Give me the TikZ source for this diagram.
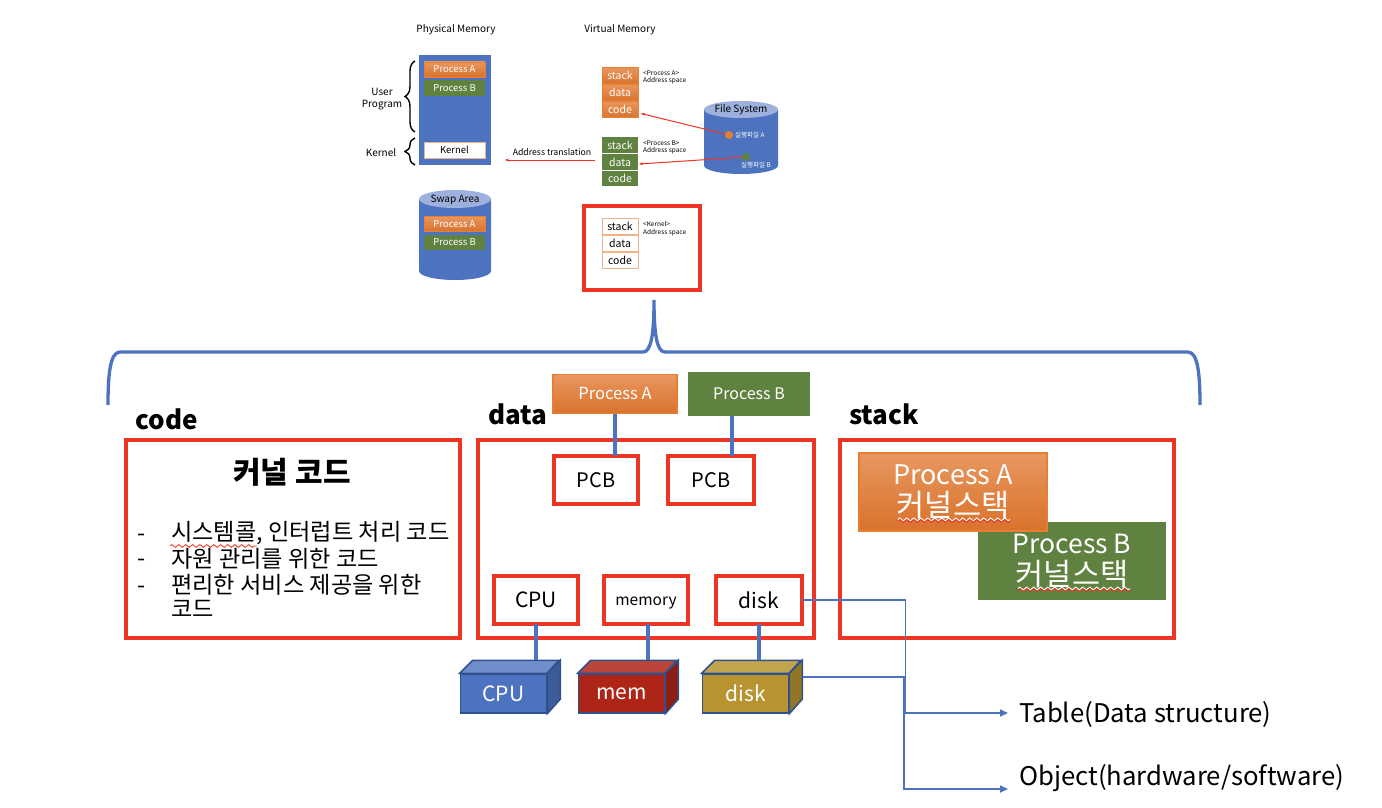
\documentclass[tikz,border=0pt]{standalone}
\usepackage{fontspec}
\setmainfont{Noto Sans CJK KR}
\usetikzlibrary{arrows.meta}
\usetikzlibrary{decorations.pathmorphing}
\usetikzlibrary{decorations.pathreplacing}
\definecolor{frameRed}{HTML}{EE3524}
\definecolor{lineBlue}{HTML}{4D72BF}
\definecolor{edgeBlue}{HTML}{2F528F}
\definecolor{procOrange}{HTML}{E67F33}
\definecolor{procLight}{HTML}{E8975F}
\definecolor{procDark}{HTML}{D9722C}
\definecolor{procGreen}{HTML}{5F8240}
\definecolor{memRed}{HTML}{AE2416}
\definecolor{diskGold}{HTML}{B7942F}
\newcommand{\fsz}[2]{\fontsize{#1}{#2}\selectfont}
\tikzset{
  redframe/.style={draw=frameRed, line width=3.5pt, fill=white, inner sep=0pt, outer sep=0pt, anchor=north west},
  redbox/.style={redframe, anchor=center, minimum height=48pt, minimum width=84pt, font=\fsz{21}{21}},
  orangebar/.style={draw=procOrange, line width=#1, top color=procLight, middle color=procOrange, bottom color=procDark, text=white, inner sep=0pt, outer sep=0pt},
  orangebar/.default=0.6pt,
  greenbar/.style={fill=procGreen, text=white, inner sep=0pt, outer sep=0pt},
  whitebar/.style={draw=procOrange!60!white, line width=0.8pt, fill=white, inner sep=0pt, outer sep=0pt},
  segment/.style={minimum width=36pt, minimum height=16.5pt, font=\fsz{10.5}{10.5}},
  smallbar/.style={minimum width=61pt, minimum height=15pt, font=\fsz{9.5}{9.5}},
  slabel/.style={font=\fsz{10}{12}, align=center, inner sep=0pt, yshift=-1.5pt},
  tinylabel/.style={font=\fsz{6.5}{7.5}, align=left, anchor=west, inner sep=0pt, yshift=-1.5pt},
  title/.style={font=\fsz{26}{26}\bfseries, inner sep=0pt},
  listline/.style={font=\fsz{23.2}{23.2}, anchor=west, inner sep=0pt},
  thinred/.style={draw=frameRed, line width=1pt, -{Stealth[length=4pt,width=3pt]}},
  thickblue/.style={draw=lineBlue, line width=3.5pt},
  thinblue/.style={draw=lineBlue, line width=1.6pt, -{Triangle[length=8pt,width=7pt]}},
  cubeface/.style={draw=edgeBlue, line width=1.5pt, minimum width=86pt, minimum height=39pt, text=white, font=\fsz{21}{21}, inner sep=0pt},
  cubeedge/.style={draw=edgeBlue, line width=1.5pt},
  squiggle/.style={draw=frameRed, line width=1pt, decorate, decoration={zigzag, amplitude=1.4pt, segment length=7pt}},
  whitesquiggle/.style={squiggle, draw=white}
}
\begin{document}
\begin{tikzpicture}[x=1pt, y=-1pt]
  \useasboundingbox (0,0) rectangle (1382,808);

  % Physical memory
  \node[slabel] (physTitle) at (456,28) {Physical Memory};
  \fill[lineBlue] (419,55) rectangle (491,165);
  \node[orangebar, smallbar] (physA) at (454.5,69.5) {Process A};
  \node[greenbar, smallbar] (physB) at (454.5,88) {Process B};
  \node[whitebar, smallbar, minimum height=16pt] (physK) at (454.5,150) {Kernel};
  \draw[line width=1.4pt, decorate, decoration={brace, amplitude=10pt}] (415,132) -- (415,61);
  \draw[line width=1.4pt, decorate, decoration={brace, amplitude=10pt}] (415,165) -- (415,138);
  \node[slabel] (userLabel) at (382,98) {User\\Program};
  \node[slabel] (kernelLabel) at (381,151) {Kernel};

  % Swap area
  \fill[lineBlue] (419,199) -- (419,271) arc[x radius=36pt, y radius=9pt, start angle=180, end angle=360] -- (491,199) -- cycle;
  \fill[lineBlue!55!white] (455,199) ellipse[x radius=36pt, y radius=9pt];
  \node[slabel] (swapTitle) at (455,198) {Swap Area};
  \node[orangebar, smallbar] (swapA) at (454.5,224) {Process A};
  \node[greenbar, smallbar] (swapB) at (454.5,242.5) {Process B};

  % Virtual memory
  \node[slabel] (virtTitle) at (620,28) {Virtual Memory};
  \node[orangebar, segment] (stackA) at (620,75.5) {stack};
  \node[orangebar, segment] (dataA) at (620,92.5) {data};
  \node[orangebar, segment] (codeA) at (620,109.5) {code};
  \node[tinylabel] (labelA) at (643,76) {<Process A>\\Address space};
  \node[greenbar, segment] (stackB) at (620,145.5) {stack};
  \node[greenbar, segment] (dataB) at (620,162) {data};
  \node[greenbar, segment] (codeB) at (620,178) {code};
  \draw[white, line width=0.6pt] (stackB.south west) -- (stackB.south east);
  \draw[white, line width=0.6pt] (dataB.south west) -- (dataB.south east);
  \node[tinylabel] (labelB) at (643,146) {<Process B>\\Address space};

  \node[redframe, minimum width=116pt, minimum height=84pt] (kernelFrame) at (584,206) {};
  \node[whitebar, segment] (stackK) at (620,226.5) {stack};
  \node[whitebar, segment] (dataK) at (620,243.5) {data};
  \node[whitebar, segment] (codeK) at (620,260.5) {code};
  \node[tinylabel] (labelK) at (643,227) {<Kernel>\\Address space};

  % File system
  \fill[lineBlue] (704,109.5) -- (704,165.5) arc[x radius=37pt, y radius=8.5pt, start angle=180, end angle=360] -- (778,109.5) -- cycle;
  \fill[lineBlue!55!white] (741,109.5) ellipse[x radius=37pt, y radius=8.5pt];
  \node[slabel] (fileTitle) at (741,108) {File System};
  \node[circle, fill=procOrange, minimum size=8pt, inner sep=0pt] (dotA) at (729,135) {};
  \node[circle, fill=procGreen, minimum size=8pt, inner sep=0pt] (dotB) at (746,157) {};
  \node[tinylabel, text=white] (fileA) at (735,134) {실행파일 A};
  \node[tinylabel, text=white] (fileB) at (741,164) {실행파일 B};
  \draw[thinred] (dotA) -- ([xshift=3pt,yshift=-4pt]codeA.east);
  \draw[thinred] (dotB) -- ([xshift=1pt,yshift=-2pt]dataB.east);

  % Address translation
  \coordinate (transStart) at (595,160);
  \coordinate (transEnd) at (505,160);
  \draw[thinred] (transStart) -- (transEnd);
  \node[slabel, font=\fsz{8.7}{10}] (transLabel) at (552,151) {Address translation};

  % Big brace
  \draw[lineBlue, line width=3.3pt] (108,405) .. controls (108,375) and (110,352) .. (120,352) -- (643,352)
    .. controls (651,352) and (654,335) .. (654,300) .. controls (654,335) and (657,352) .. (665,352)
    -- (1188,352) .. controls (1198,352) and (1200,375) .. (1200,405);

  % Titles
  \node[title] (codeTitle) at (167,419) {code};
  \node[title] (dataTitle) at (518,414) {data};
  \node[title] (stackTitle) at (884,414.5) {stack};

  % Code box
  \node[redframe, minimum width=334pt, minimum height=198pt] (codeBox) at (126,440) {};
  \node[font=\fsz{30}{30}\bfseries, inner sep=0pt] (codeHead) at (292,472) {커널 코드};
  \node[listline] (dashA) at (137,538) {-};
  \node[listline] (dashB) at (137,563) {-};
  \node[listline] (dashC) at (137,590) {-};
  \node[listline] (lineA) at (171,533.5) {시스템콜, 인터럽트 처리 코드};
  \node[listline] (lineB) at (171,558.5) {자원 관리를 위한 코드};
  \node[listline] (lineC) at (171,584.5) {편리한 서비스 제공을 위한};
  \node[listline] (lineD) at (171,608.5) {코드};
  \draw[whitesquiggle, line width=0.8pt] (170,544.5) -- (257,544.5);
  \draw[squiggle, line width=0.8pt] (170,546) -- (257,546);

  % Data box
  \node[redframe, minimum width=336pt, minimum height=198pt] (dataBox) at (478,440) {};
  \node[orangebar=1.2pt, minimum width=124pt, minimum height=39pt, font=\fsz{16.6}{16.6}] (topA) at (615,394) {Process A};
  \node[greenbar, minimum width=122pt, minimum height=44pt, font=\fsz{16}{16}] (topB) at (749,394) {Process B};
  \node[redbox, font=\fsz{20}{20}] (pcbA) at (596,480) {PCB};
  \node[redbox, font=\fsz{20}{20}, minimum width=86pt] (pcbB) at (711,480) {PCB};
  \node[redbox] (cpuBox) at (536,600) {CPU};
  \node[redbox, font=\fsz{15.5}{15.5}, text height=12pt, text depth=2pt] (memBox) at (646,600) {memory};
  \node[redbox, minimum width=86pt] (diskBox) at (759,600) {disk};
  \draw[thickblue] (topA.south) -- (topA.south |- pcbA.north);
  \draw[thickblue] ([xshift=21pt]pcbB.north) -- ([xshift=21pt]pcbB.north |- topB.south);

  % Stack box
  \node[redframe, minimum width=334pt, minimum height=198pt] (stackBox) at (840,440) {};
  \node[greenbar, minimum width=188pt, minimum height=78pt, font=\fsz{26.5}{32}, align=center] (kstackB) at (1072,561) {Process B\\{\fsz{30.6}{32}커널스택}};
  \node[orangebar=1.5pt, minimum width=188pt, minimum height=78pt, font=\fsz{27}{32}, align=center] (kstackA) at (953,492) {Process A\\{\fsz{30.6}{32}커널스택}};
  \draw[whitesquiggle] (898,519.5) -- (1010,519.5);
  \draw[squiggle] (898,521) -- (1010,521);
  \draw[whitesquiggle] (1018,588.5) -- (1130,588.5);
  \draw[squiggle] (1018,590) -- (1130,590);

  % Hardware cubes
  \node[cubeface, fill=lineBlue] (cpuCube) at (503.5,693.5) {CPU};
  \draw[cubeedge, fill=lineBlue!80!white] (cpuCube.north west) -- ++(13,-13) -- ++(86,0) -- (cpuCube.north east) -- cycle;
  \draw[cubeedge, fill=lineBlue!80!black] (cpuCube.north east) -- ++(13,-13) -- ++(0,39) -- (cpuCube.south east) -- cycle;
  \node[cubeface, fill=memRed] (memCube) at (621.5,693.5) {mem};
  \draw[cubeedge, fill=memRed!85!white] (memCube.north west) -- ++(13,-13) -- ++(86,0) -- (memCube.north east) -- cycle;
  \draw[cubeedge, fill=memRed!80!black] (memCube.north east) -- ++(13,-13) -- ++(0,39) -- (memCube.south east) -- cycle;
  \node[cubeface, fill=diskGold] (diskCube) at (745.5,693.5) {disk};
  \draw[cubeedge, fill=diskGold!85!white] (diskCube.north west) -- ++(13,-13) -- ++(86,0) -- (diskCube.north east) -- cycle;
  \draw[cubeedge, fill=diskGold!80!black] (diskCube.north east) -- ++(13,-13) -- ++(0,39) -- (diskCube.south east) -- cycle;
  \draw[thickblue] (cpuBox.south) -- (cpuBox.south |- 0,660);
  \draw[thickblue] ([xshift=2pt]memBox.south) -- ([xshift=2pt,yshift=-36pt]memBox.south);
  \draw[thickblue] (diskBox.south) -- (diskBox.south |- 0,660);

  % Outputs
  \node[font=\fsz{25.7}{25.7}, anchor=west, inner sep=0pt] (tableLabel) at (1019,715) {Table(Data structure)};
  \node[font=\fsz{25.7}{25.7}, anchor=west, inner sep=0pt] (objectLabel) at (1019,778.5) {Object(hardware/software)};
  \coordinate (diskCubeOut) at (803,677);
  \coordinate (tableEnd) at (1008,713);
  \coordinate (objectEnd) at (1008,789);
  \draw[thinblue] (diskBox.east) -- (905.5,600) -- (905.5,713) -- (tableEnd);
  \draw[thinblue] (diskCubeOut) -- (904,677) -- (904,789) -- (objectEnd);
\end{tikzpicture}
\end{document}
